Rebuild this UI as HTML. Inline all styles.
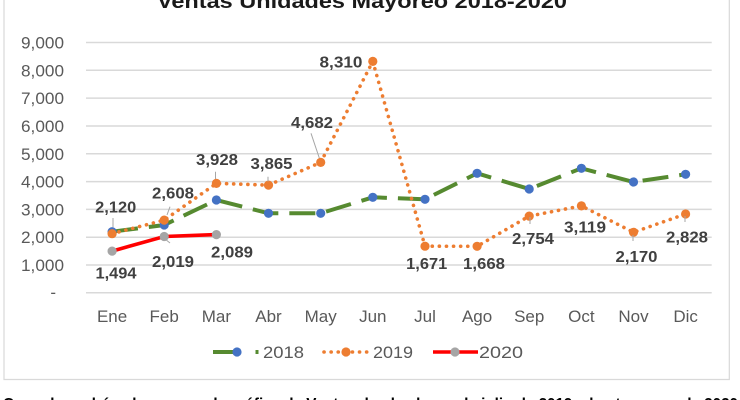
<!DOCTYPE html>
<html><head><meta charset="utf-8"><style>
html,body{margin:0;padding:0;background:#fff;width:740px;height:400px;overflow:hidden}
svg{display:block}
text{font-family:"Liberation Sans",Arial,sans-serif}
</style></head><body>
<svg width="740" height="400" viewBox="0 0 740 400" xmlns="http://www.w3.org/2000/svg">
<rect x="0" y="0" width="740" height="400" fill="#fff"/>
<!-- chart border -->
<path d="M4,-2 V379.5 H729.3 V-2" fill="none" stroke="#d9d9d9" stroke-width="1.2"/>
<!-- title -->
<text x="157" y="8" font-size="20" font-weight="bold" fill="#1a1a1a" textLength="410" lengthAdjust="spacingAndGlyphs">Ventas Unidades Mayoreo 2018-2020</text>
<!-- gridlines -->
<g stroke="#d9d9d9" stroke-width="1.5">
<line x1="86" x2="711.7" y1="42.5" y2="42.5"/>
<line x1="86" x2="711.7" y1="70.3" y2="70.3"/>
<line x1="86" x2="711.7" y1="98.1" y2="98.1"/>
<line x1="86" x2="711.7" y1="126" y2="126"/>
<line x1="86" x2="711.7" y1="153.8" y2="153.8"/>
<line x1="86" x2="711.7" y1="181.6" y2="181.6"/>
<line x1="86" x2="711.7" y1="209.4" y2="209.4"/>
<line x1="86" x2="711.7" y1="237.2" y2="237.2"/>
<line x1="86" x2="711.7" y1="265" y2="265"/>
<line x1="86" x2="711.7" y1="292.7" y2="292.7"/>
</g>
<!-- y labels -->
<g font-size="17" fill="#595959" text-anchor="end">
<text x="64" y="48.5" textLength="43" lengthAdjust="spacingAndGlyphs">9,000</text>
<text x="64" y="76.3" textLength="43" lengthAdjust="spacingAndGlyphs">8,000</text>
<text x="64" y="104.1" textLength="43" lengthAdjust="spacingAndGlyphs">7,000</text>
<text x="64" y="132" textLength="43" lengthAdjust="spacingAndGlyphs">6,000</text>
<text x="64" y="159.8" textLength="43" lengthAdjust="spacingAndGlyphs">5,000</text>
<text x="64" y="187.6" textLength="43" lengthAdjust="spacingAndGlyphs">4,000</text>
<text x="64" y="215.4" textLength="43" lengthAdjust="spacingAndGlyphs">3,000</text>
<text x="64" y="243.2" textLength="43" lengthAdjust="spacingAndGlyphs">2,000</text>
<text x="64" y="271" textLength="43" lengthAdjust="spacingAndGlyphs">1,000</text>
<text x="56" y="298">-</text>
</g>
<!-- x labels -->
<g font-size="17" fill="#595959" text-anchor="middle">
<text x="112.1" y="322">Ene</text>
<text x="164.2" y="322">Feb</text>
<text x="216.4" y="322">Mar</text>
<text x="268.5" y="322">Abr</text>
<text x="320.7" y="322">May</text>
<text x="372.8" y="322">Jun</text>
<text x="425" y="322">Jul</text>
<text x="477.1" y="322">Ago</text>
<text x="529.2" y="322">Sep</text>
<text x="581.4" y="322">Oct</text>
<text x="633.5" y="322">Nov</text>
<text x="685.6" y="322">Dic</text>
</g>
<!-- 2018 -->
<polyline fill="none" stroke="#568a30" stroke-width="4" stroke-dasharray="26 11" points="112.1,231.7 164.2,225 216.4,200 268.5,213.3 320.7,213.3 372.8,197.3 425,199.3 477.1,173.3 529.2,189 581.4,168.3 633.5,182 685.6,174.3"/>
<g fill="#4472c4">
<circle cx="112.1" cy="231.7" r="4.6"/><circle cx="164.2" cy="225" r="4.6"/><circle cx="216.4" cy="200" r="4.6"/><circle cx="268.5" cy="213.3" r="4.6"/><circle cx="320.7" cy="213.3" r="4.6"/><circle cx="372.8" cy="197.3" r="4.6"/><circle cx="425" cy="199.3" r="4.6"/><circle cx="477.1" cy="173.3" r="4.6"/><circle cx="529.2" cy="189" r="4.6"/><circle cx="581.4" cy="168.3" r="4.6"/><circle cx="633.5" cy="182" r="4.6"/><circle cx="685.6" cy="174.3" r="4.6"/>
</g>
<!-- 2019 -->
<polyline fill="none" stroke="#ed7d31" stroke-width="3.6" stroke-linecap="round" stroke-dasharray="0.1 7" points="112.1,233.7 164.2,220.1 216.4,183.4 268.5,185.1 320.7,162.4 372.8,61.4 425,246.2 477.1,246.3 529.2,216.1 581.4,205.9 633.5,232.3 685.6,214"/>
<g fill="#ed7d31">
<circle cx="112.1" cy="233.7" r="4.6"/><circle cx="164.2" cy="220.1" r="4.6"/><circle cx="216.4" cy="183.4" r="4.6"/><circle cx="268.5" cy="185.1" r="4.6"/><circle cx="320.7" cy="162.4" r="4.6"/><circle cx="372.8" cy="61.4" r="4.6"/><circle cx="425" cy="246.2" r="4.6"/><circle cx="477.1" cy="246.3" r="4.6"/><circle cx="529.2" cy="216.1" r="4.6"/><circle cx="581.4" cy="205.9" r="4.6"/><circle cx="633.5" cy="232.3" r="4.6"/><circle cx="685.6" cy="214" r="4.6"/>
</g>
<!-- 2020 -->
<polyline fill="none" stroke="#ff0000" stroke-width="3.6" points="112.1,251.1 164.2,236.5 216.4,234.6"/>
<g fill="#a5a5a5">
<circle cx="112.1" cy="251.1" r="4.6"/><circle cx="164.2" cy="236.5" r="4.6"/><circle cx="216.4" cy="234.6" r="4.6"/>
</g>
<!-- leader lines -->
<g stroke="#a6a6a6" stroke-width="1">
<line x1="113" y1="218" x2="113" y2="227"/>
<line x1="170" y1="206.7" x2="167" y2="215"/>
<line x1="165" y1="239" x2="170" y2="243"/>
<line x1="215.5" y1="171.7" x2="215.5" y2="179"/>
<line x1="268" y1="176.7" x2="268" y2="181.5"/>
<line x1="311" y1="133.3" x2="319.3" y2="158"/>
<line x1="530" y1="217" x2="530" y2="224"/>
<line x1="633" y1="235" x2="633" y2="241"/>
<line x1="685" y1="216" x2="685" y2="222"/>
</g>
<!-- data labels -->
<g font-size="16" font-weight="bold" fill="#404040" text-anchor="middle">
<text x="115.7" y="212.5" textLength="41" lengthAdjust="spacingAndGlyphs">2,120</text>
<text x="173" y="198.5" textLength="42" lengthAdjust="spacingAndGlyphs">2,608</text>
<text x="217" y="164.8" textLength="42" lengthAdjust="spacingAndGlyphs">3,928</text>
<text x="271.5" y="168.8" textLength="42" lengthAdjust="spacingAndGlyphs">3,865</text>
<text x="312" y="127.8" textLength="42" lengthAdjust="spacingAndGlyphs">4,682</text>
<text x="341" y="67.5" textLength="43" lengthAdjust="spacingAndGlyphs">8,310</text>
<text x="426.7" y="269.1" textLength="41" lengthAdjust="spacingAndGlyphs">1,671</text>
<text x="484" y="269.1" textLength="42" lengthAdjust="spacingAndGlyphs">1,668</text>
<text x="533" y="244.1" textLength="42" lengthAdjust="spacingAndGlyphs">2,754</text>
<text x="585" y="232.5" textLength="42" lengthAdjust="spacingAndGlyphs">3,119</text>
<text x="636.5" y="261.8" textLength="42" lengthAdjust="spacingAndGlyphs">2,170</text>
<text x="687" y="242.5" textLength="42" lengthAdjust="spacingAndGlyphs">2,828</text>
<text x="116" y="278.5" textLength="41" lengthAdjust="spacingAndGlyphs">1,494</text>
<text x="173" y="266.8" textLength="42" lengthAdjust="spacingAndGlyphs">2,019</text>
<text x="232" y="257.5" textLength="42" lengthAdjust="spacingAndGlyphs">2,089</text>
</g>
<!-- legend -->
<line x1="213" y1="352" x2="241" y2="352" stroke="#568a30" stroke-width="4"/>
<line x1="255.5" y1="352" x2="258.5" y2="352" stroke="#568a30" stroke-width="4"/>
<circle cx="237" cy="352" r="4.6" fill="#4472c4"/>
<line x1="324" y1="352" x2="368" y2="352" stroke="#ed7d31" stroke-width="3.6" stroke-linecap="round" stroke-dasharray="0.1 7"/>
<circle cx="346" cy="352" r="4.6" fill="#ed7d31"/>
<line x1="433" y1="352" x2="478" y2="352" stroke="#ff0000" stroke-width="3.6"/>
<circle cx="455" cy="352" r="4.6" fill="#a5a5a5"/>
<g font-size="17" fill="#595959">
<text x="263" y="358" textLength="41" lengthAdjust="spacingAndGlyphs">2018</text>
<text x="373" y="358" textLength="40" lengthAdjust="spacingAndGlyphs">2019</text>
<text x="479" y="358" textLength="44" lengthAdjust="spacingAndGlyphs">2020</text>
</g>
<!-- bottom text (cut off) -->
<text x="3" y="409" font-size="16" font-weight="bold" fill="#000" textLength="735" lengthAdjust="spacingAndGlyphs">Como lo podrás observar en la gráfica de Ventas desde el mes de julio de 2019 y hasta marzo de 2020</text>
</svg>
</body></html>
